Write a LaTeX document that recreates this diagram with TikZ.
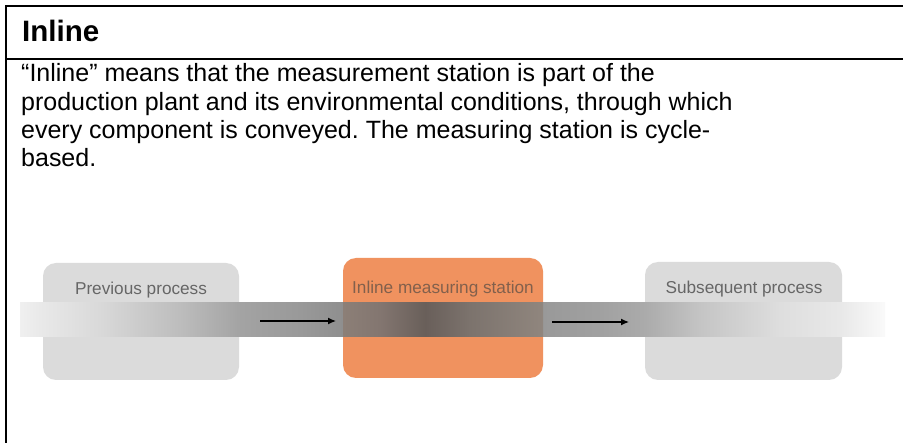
\documentclass[tikz,border=0pt]{standalone}
\usepackage{fontspec}
\setmainfont{Liberation Sans}
\usetikzlibrary{arrows.meta}

\definecolor{boxgray}{HTML}{DBDBDB}
\definecolor{stationorange}{HTML}{F0925F}
\definecolor{graytext}{HTML}{666666}
\definecolor{stationtext}{HTML}{82604C}
\definecolor{sbA}{HTML}{8C7F77}
\definecolor{sbB}{HTML}{837670}
\definecolor{sbC}{HTML}{695F5A}
\definecolor{sbD}{HTML}{7C736D}
\definecolor{sbE}{HTML}{90867E}

% Conveyor band: light at the entry, darkest in the station, fading out at the exit
\pgfdeclarehorizontalshading{conveyor}{100bp}{%
  color(0bp)=(black!6); color(25bp)=(black!6); color(26.33bp)=(black!9);
  color(29.62bp)=(black!15); color(34.25bp)=(black!26); color(37.72bp)=(black!36);
  color(41.19bp)=(black!40); color(43.67bp)=(black!44); color(55.23bp)=(black!40);
  color(58.53bp)=(black!37); color(61.13bp)=(black!33); color(64.31bp)=(black!23);
  color(68.93bp)=(black!13); color(72.4bp)=(black!9); color(75bp)=(black!2);
  color(100bp)=(black!2)}
% The part of the band seen through the measuring station
\pgfdeclarehorizontalshading{stationband}{100bp}{%
  color(0bp)=(sbA); color(25bp)=(sbA); color(34.25bp)=(sbB);
  color(45.5bp)=(sbC); color(56.75bp)=(sbD); color(75bp)=(sbE); color(100bp)=(sbE)}

\tikzset{
  frame/.style={line width=2pt, black},
  process/.style={fill=boxgray, rounded corners=13pt},
  station/.style={fill=stationorange, rounded corners=13pt},
  boxlabel/.style={font=\fontsize{17.2}{19}\selectfont, anchor=base, inner sep=0pt},
  flow/.style={line width=1.2pt, -{Latex[length=8pt,width=7pt]}},
}

\begin{document}
\frenchspacing
\begin{tikzpicture}[x=1pt,y=1pt]
  \useasboundingbox (0,0) rectangle (903,-443);
  \fill[white] (0,0) rectangle (903,-443);

  % table frame (open to the right and bottom)
  \draw[frame] (6,-443) -- (6,-6) -- (903,-6);
  \draw[frame] (6,-59.3) -- (903,-59.3);

  % heading and description
  \node[anchor=base west, inner sep=0pt, font=\bfseries\fontsize{29.5}{31}\selectfont] (title) at (22,-42) {Inline};
  \node[anchor=base west, inner sep=0pt, font=\fontsize{25}{28.3}\selectfont] (desc) at (21,-82)
    {\parbox[t]{870pt}{\baselineskip=28.3pt
      “Inline” means that the measurement station is part of the\\
      production plant and its environmental conditions, through which\\
      every component is conveyed. The measuring station is cycle-\\
      based.}};

  % process boxes
  \path[process] (43,-263) rectangle (239,-380);
  \path[station] (343,-258) rectangle (543,-378);
  \path[process] (645,-262) rectangle (842,-380);

  % conveyor band
  \shade[shading=conveyor] (20,-303) rectangle (885,-337);
  \shade[shading=stationband] (343,-303) rectangle (543,-337);

  % labels
  \node[boxlabel, text=graytext] (prev) at (141,-295) {Previous process};
  \node[boxlabel, text=stationtext] (meas) at (443,-294) {Inline measuring station};
  \node[boxlabel, text=graytext] (next) at (744,-294) {Subsequent process};

  % flow arrows
  \coordinate (f1s) at (260,-321);
  \coordinate (f1e) at (336,-321);
  \coordinate (f2s) at (552,-322);
  \coordinate (f2e) at (629,-322);
  \draw[flow] (f1s) -- (f1e);
  \draw[flow] (f2s) -- (f2e);
\end{tikzpicture}
\end{document}
